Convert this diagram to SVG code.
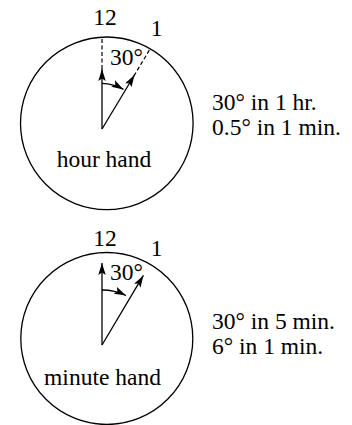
<svg xmlns="http://www.w3.org/2000/svg" width="352" height="425" viewBox="0 0 352 425">
<style>
.face{fill:none;stroke:#000;stroke-width:1.3}
.hand{fill:none;stroke:#000;stroke-width:1.3}
.dash{fill:none;stroke:#000;stroke-width:1.2;stroke-dasharray:4 2.5}
text{font-family:"Liberation Serif","Times New Roman",serif;font-size:23.5px;fill:#000}
.mid{text-anchor:middle}
</style>
<defs>
<marker id="ah" markerUnits="userSpaceOnUse" markerWidth="13" markerHeight="8" refX="12" refY="3.75" orient="auto">
<path d="M0,0 L12,3.75 L0,7.5 L2.5,3.75 z" fill="#000"/>
</marker>
</defs>
<rect width="352" height="425" fill="#fff"/>
<g id="hour-clock">
<circle class="face" cx="106.8" cy="123.3" r="86.3"/>
<text class="mid" x="105" y="25">12</text>
<text class="mid" x="156.5" y="35.5">1</text>
<text x="110" y="65">30°</text>
<text class="mid" x="104" y="167">hour hand</text>
</g>
<g id="minute-clock">
<circle class="face" cx="106.8" cy="338.5" r="86"/>
<text class="mid" x="105" y="245.5">12</text>
<text class="mid" x="156.5" y="256">1</text>
<text x="110" y="280">30°</text>
<text class="mid" x="102.5" y="385">minute hand</text>
</g>
<g id="hour-note">
<text x="212" y="110">30° in 1 hr.</text>
<text x="212" y="135">0.5° in 1 min.</text>
</g>
<g id="minute-note">
<text x="212" y="329">30° in 5 min.</text>
<text x="212" y="354">6° in 1 min.</text>
</g>
<g id="connectors">
<line class="dash" x1="102" y1="69" x2="102" y2="38"/>
<line class="dash" x1="133.9" y1="75.9" x2="150.3" y2="48.6"/>
<line class="hand" x1="102" y1="129" x2="102" y2="69" marker-end="url(#ah)"/>
<line class="hand" x1="102" y1="129" x2="134.5" y2="75" marker-end="url(#ah)"/>
<path class="hand" d="M102,83.3 A45.7,45.7 0 0 1 123.5,89.4" marker-end="url(#ah)"/>
<line class="hand" x1="102" y1="345" x2="102" y2="263" marker-end="url(#ah)"/>
<line class="hand" x1="102" y1="345" x2="143.4" y2="275.4" marker-end="url(#ah)"/>
<path class="hand" d="M102,290 A55,55 0 0 1 126,295.5" marker-end="url(#ah)"/>
</g>
</svg>
